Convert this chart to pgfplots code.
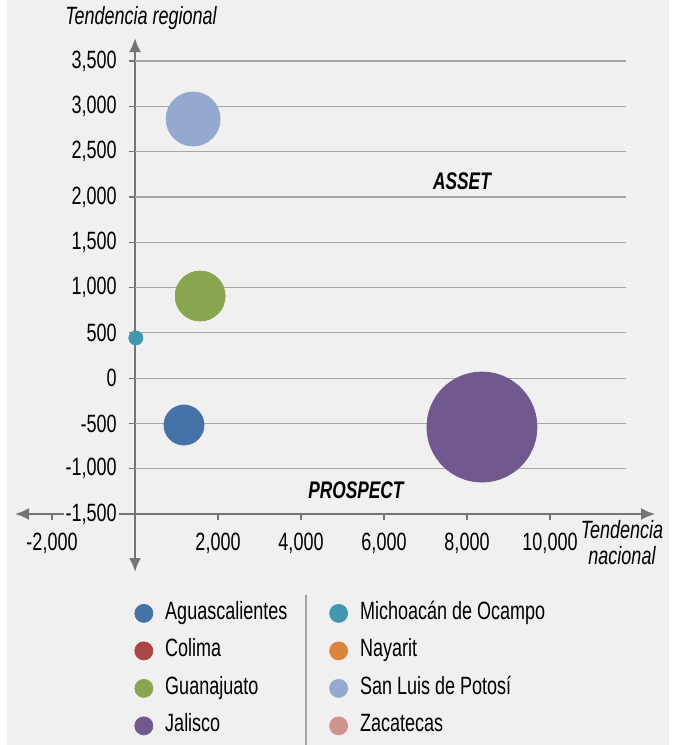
\documentclass[border=0pt]{standalone}
\usepackage{fontspec}
\setmainfont{Liberation Sans}[FakeStretch=0.72]
\usepackage{pgfplots}
\pgfplotsset{compat=1.18}
\usepackage{pgfplotstable}
\usetikzlibrary{arrows.meta}
\definecolor{bg}{HTML}{F0F0F0}
\definecolor{axisgray}{HTML}{747474}
\definecolor{gridgray}{HTML}{A6A6A6}
\definecolor{cAgs}{HTML}{4572A7}
\definecolor{cCol}{HTML}{AA4643}
\definecolor{cGto}{HTML}{89A54E}
\definecolor{cJal}{HTML}{71588F}
\definecolor{cMich}{HTML}{4198AF}
\definecolor{cNay}{HTML}{DB843D}
\definecolor{cSLP}{HTML}{93A9CF}
\definecolor{cZac}{HTML}{D19392}

% x = tendencia nacional, y = tendencia regional, r = bubble radius (pt)
\pgfplotstableread{
x y r
1180 -518 10
}\dAgs
\pgfplotstableread{
x y r
1570 906 12.5
}\dGto
\pgfplotstableread{
x y r
8360 -540 27.5
}\dJal
\pgfplotstableread{
x y r
20 443 3.5
}\dMich
\pgfplotstableread{
x y r
1400 2860 13.5
}\dSLP

\begin{document}
\begin{tikzpicture}
\useasboundingbox (-7.5pt,-115.5pt) rectangle (329pt,257pt);
\fill[white] (-7.5pt,-115.5pt) rectangle (329pt,257pt);
\fill[bg] (-4pt,-115.5pt) rectangle (327pt,257pt);
\begin{axis}[
  scale only axis, width=320pt, height=226.5pt,
  xmin=-2892, xmax=12530, ymin=-1500, ymax=3500,
  clip=false,
  axis x line*=bottom, axis y line*=middle,
  hide obscured x ticks=false, hide obscured y ticks=false,
  x axis line style={draw=axisgray, line width=1pt, {Latex[length=7pt,width=6pt]}-{Latex[length=7pt,width=6pt]}},
  y axis line style={draw=axisgray, line width=1pt, {Latex[length=7pt,width=6pt]}-{Latex[length=7pt,width=6pt]}, shorten <=-29pt, shorten >=-11.5pt},
  xtick={-2000,2000,4000,6000,8000,10000},
  ytick={-1500,-1000,...,3500},
  scaled x ticks=false, scaled y ticks=false,
  tick align=outside, major tick length=3pt,
  tick style={draw=axisgray, line width=0.6pt},
  /pgf/number format/assume math mode=true,
  /pgf/number format/1000 sep={,},
  ticklabel style={font=\fontsize{12.5}{14}\selectfont},
  yticklabel style={fill=bg, inner sep=1pt, xshift=-5pt},
  xticklabel style={yshift=-3pt},
  legend columns=4, transpose legend,
  legend cell align=left,
  legend image code/.code={\draw[#1] plot coordinates {(4.5pt,0pt)}; \path (0pt,0pt) (15pt,0pt);},
  legend style={draw=none, fill=none, at={(0.186,-0.192)}, anchor=north west,
    inner sep=0pt, column sep=0pt, row sep=6.75pt,
    font=\fontsize{12.5}{14}\selectfont,
    nodes={inner sep=0pt, text height=9pt, text depth=3pt}},
]
\addlegendimage{only marks, mark=*, mark size=4.5pt, color=cAgs}
\addlegendentry{\makebox[82pt][l]{Aguascalientes}}
\addlegendimage{only marks, mark=*, mark size=4.5pt, color=cCol}
\addlegendentry{\makebox[82pt][l]{Colima}}
\addlegendimage{only marks, mark=*, mark size=4.5pt, color=cGto}
\addlegendentry{\makebox[82pt][l]{Guanajuato}}
\addlegendimage{only marks, mark=*, mark size=4.5pt, color=cJal}
\addlegendentry{\makebox[82pt][l]{Jalisco}}
\addlegendimage{only marks, mark=*, mark size=4.5pt, color=cMich}
\addlegendentry{Michoacán de Ocampo}
\addlegendimage{only marks, mark=*, mark size=4.5pt, color=cNay}
\addlegendentry{Nayarit}
\addlegendimage{only marks, mark=*, mark size=4.5pt, color=cSLP}
\addlegendentry{San Luis de Potosí}
\addlegendimage{only marks, mark=*, mark size=4.5pt, color=cZac}
\addlegendentry{Zacatecas}

\pgfplotsset{bub/.style={scatter, only marks, mark=*, forget plot,
  scatter/use mapped color={draw=#1, fill=#1},
  visualization depends on={\thisrow{r} \as \rad},
  scatter/@pre marker code/.append style={/tikz/mark size=\rad}}}
\addplot[bub=cAgs] table[x=x,y=y] {\dAgs};
\addplot[bub=cGto] table[x=x,y=y] {\dGto};
\addplot[bub=cJal] table[x=x,y=y] {\dJal};
\addplot[bub=cMich] table[x=x,y=y] {\dMich};
\addplot[bub=cSLP] table[x=x,y=y] {\dSLP};

\pgfplotsinvokeforeach{-1000,-500,0,500,1000,1500,2000,2500,3000,3500}{
  \draw[gridgray, line width=0.6pt] (axis cs:0,#1) -- (axis cs:11831,#1);
}
\draw[gridgray, line width=0.6pt] (axis cs:4120,-2390) -- (axis cs:4120,-4100);
\end{axis}
\node[font=\fontsize{12.5}{14}\selectfont\itshape] at (63pt,248pt) {Tendencia regional};
\node[font=\fontsize{12.5}{14}\selectfont\itshape, align=center] at (303.5pt,-14.5pt) {Tendencia\\[-1pt]nacional};
\node[font=\fontsize{12}{13}\selectfont\bfseries\itshape] at (223.5pt,166.5pt) {ASSET};
\node[font=\fontsize{12}{13}\selectfont\bfseries\itshape] at (170.5pt,12pt) {PROSPECT};
\end{tikzpicture}
\end{document}
